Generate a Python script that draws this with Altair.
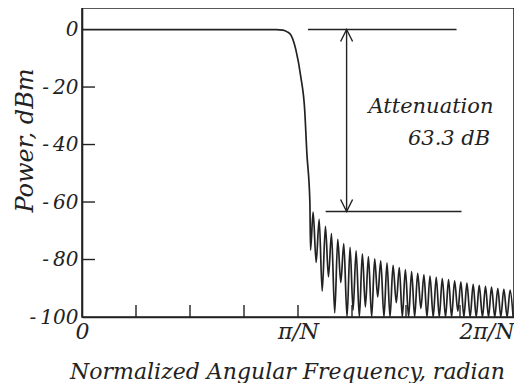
import altair as alt
import pandas as pd

# x in units of pi/N, y in dB
main_x = [0.0, 0.30, 0.60, 0.90, 0.93, 0.95, 0.968, 0.99, 1.013, 1.031, 1.041, 1.055]
main_y = [0, 0, 0, 0, -0.2, -0.8, -2, -7, -16.5, -28, -43, -60]

peak_x = [1.070, 1.098, 1.127, 1.155, 1.184, 1.212, 1.241, 1.269, 1.298, 1.326, 1.355,
          1.383, 1.412, 1.440, 1.469, 1.497, 1.526, 1.554, 1.583, 1.611, 1.640, 1.668,
          1.697, 1.725, 1.754, 1.782, 1.811, 1.839, 1.868, 1.896, 1.925, 1.953, 1.982]
peak_y = [-63.5, -66, -68.5, -71, -73, -74.5, -75.8, -77, -78, -79, -79.8,
          -80.5, -81.2, -82, -82.8, -83.5, -84.2, -84.8, -85.3, -85.8, -86.2, -86.6,
          -87, -87.4, -87.8, -88.2, -88.6, -89, -89.3, -89.6, -90, -90.3, -90.6]
null_x = [1.058, 1.084, 1.112, 1.141, 1.170, 1.198, 1.227, 1.255, 1.284, 1.312, 1.341, 1.369,
          1.398, 1.426, 1.455, 1.483, 1.512, 1.540, 1.569, 1.597, 1.626, 1.654, 1.683,
          1.711, 1.740, 1.768, 1.797, 1.825, 1.854, 1.882, 1.911, 1.939, 1.968, 1.996]
null_y = [-76.7, -81, -91, -86, -98.6, -88, -100, -97.6, -100, -96.5, -100, -93,
          -100, -100, -95, -100, -100, -100, -97, -100, -100, -100, -100,
          -100, -98, -100, -100, -100, -100, -100, -100, -100, -100, -100]

y_tick_values = [0, -20, -40, -60, -80, -100]
y_tick_labels = ["0", "-\u200920", "-\u200940", "-\u200960", "-\u200980", "-\u2009100"]
x_tick_values = [0, 1, 2]
x_tick_labels = ["0", "\u03c0/N", "2\u03c0/N"]
x_minor_ticks = [0.25, 0.5, 0.75, 1.0, 1.25, 1.5, 1.75]
y_minor_ticks = [-20, -40, -60, -80]

atten_db = -63.3
ref_lines = pd.DataFrame({"x": [1.046, 1.128], "x2": [1.734, 1.757], "y": [0, atten_db]})
arrow = pd.DataFrame({"x": [1.225], "y": [0], "y2": [atten_db]})
heads = pd.DataFrame({"x": [1.225, 1.225], "y": [0, atten_db], "dir": ["up", "down"]})
notes = pd.DataFrame({"x": [1.905, 1.89], "y": [-29.0, -40.2],
                      "text": ["Attenuation", "63.3 dB"]})

curve = pd.concat([
    pd.DataFrame({"x": main_x, "y": main_y}),
    pd.DataFrame({"x": peak_x, "y": peak_y}),
    pd.DataFrame({"x": null_x, "y": null_y}),
]).sort_values("x").reset_index(drop=True)

FONT = "DejaVu Serif"
INK = "#222222"
W, H = 432, 309

xs = alt.Scale(domain=[0, 2], nice=False, zero=False)
ys = alt.Scale(domain=[-100, 7.5], nice=False, zero=False)


def map_expr(vals, labs):
    parts = "".join(f"datum.value == {v} ? '{l}' : " for v, l in zip(vals, labs))
    return parts + "''"


x_axis = alt.Axis(
    values=x_tick_values, labelExpr=map_expr(x_tick_values, x_tick_labels),
    ticks=False, grid=False, labelPadding=4, labelFont=FONT, labelFontStyle="italic",
    labelFontSize=22, labelColor=INK, domainColor=INK, domainWidth=1.6,
    labelAlign=alt.condition("datum.value == 2", alt.value("right"), alt.value("center")),
    title="Normalized Angular Frequency, radian", titleFont=FONT, titleFontStyle="italic",
    titleFontWeight="normal", titleFontSize=22, titleColor=INK,
    titleX=205, titleY=61, titleAlign="center", titleBaseline="alphabetic")
y_axis = alt.Axis(
    values=y_tick_values, labelExpr=map_expr(y_tick_values, y_tick_labels),
    ticks=False, grid=False, labelPadding=4, labelFont=FONT, labelFontStyle="italic",
    labelFontSize=20, labelColor=INK, domainColor=INK, domainWidth=1.6,
    title="Power, dBm", titleFont=FONT, titleFontStyle="italic",
    titleFontWeight="normal", titleFontSize=24, titleColor=INK,
    titleX=-50, titleY=132, titleAngle=270, titleAlign="center", titleBaseline="alphabetic")

X = alt.X("x:Q", scale=xs, axis=x_axis)
Y = alt.Y("y:Q", scale=ys, axis=y_axis)

line = alt.Chart(curve).mark_line(color=INK, strokeWidth=1.7, interpolate="monotone", clip=True).encode(
    x=X, y=Y)

yt = alt.Chart(pd.DataFrame({"y": y_minor_ticks})).mark_rule(color=INK, strokeWidth=1.4).encode(
    y=Y, x=alt.value(0), x2=alt.value(13))
xt = alt.Chart(pd.DataFrame({"x": x_minor_ticks})).mark_rule(color=INK, strokeWidth=1.4).encode(
    x=X, y=alt.value(H), y2=alt.value(H - 12))

refs = alt.Chart(ref_lines).mark_rule(color=INK, strokeWidth=1.4).encode(x=X, x2="x2:Q", y=Y)
arr = alt.Chart(arrow).mark_rule(color=INK, strokeWidth=1.4).encode(x=X, y=Y, y2="y2:Q")
hd = alt.Chart(heads).mark_point(filled=False, color=INK, strokeWidth=1.4, size=576, opacity=1).encode(
    x=X, y=Y,
    shape=alt.Shape("dir:N", scale=alt.Scale(domain=["up", "down"],
                    range=["M-0.5,1L0,0L0.5,1", "M-0.5,-1L0,0L0.5,-1"]), legend=None))
txt = alt.Chart(notes).mark_text(font=FONT, fontStyle="italic", fontSize=21, align="right",
                                 baseline="alphabetic", color=INK).encode(
    x=X, y=Y, text="text:N")

chart = alt.layer(line, yt, xt, refs, arr, hd, txt).properties(
    width=W, height=H,
    background="white",
    autosize=alt.AutoSizeParams(type="none"),
    padding={"left": 74, "top": 0, "right": 0, "bottom": 66},
).configure_view(stroke=INK, strokeWidth=1.6)

chart.save("out.html", embed_options={"renderer": "svg", "actions": False})
